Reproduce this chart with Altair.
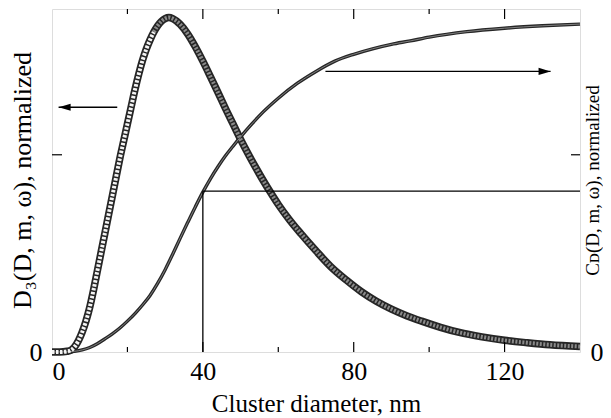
import altair as alt
import pandas as pd

# D3 distribution (left axis)
x_d3 = [0, 2, 4, 5, 6, 7, 8, 9, 10, 11, 12, 13, 14, 15, 16, 17, 18, 19, 20, 21, 22, 23, 24, 25, 26, 27, 28, 29, 30,
        31, 32, 33, 34, 36, 38, 40, 42, 44, 46, 48, 50, 52, 54, 56, 58, 60, 63, 66, 70, 74, 78, 82, 86, 90, 94, 98,
        103, 108, 114, 120, 126, 132, 140]
y_d3 = [0, 0, 0.002, 0.005, 0.015, 0.033, 0.058, 0.09, 0.13, 0.18, 0.235, 0.29, 0.345, 0.40, 0.455, 0.51, 0.565,
        0.615, 0.665, 0.715, 0.765, 0.81, 0.85, 0.883, 0.91, 0.933, 0.951, 0.964, 0.972, 0.975, 0.972, 0.965, 0.955,
        0.927, 0.89, 0.848, 0.803, 0.757, 0.71, 0.665, 0.62, 0.578, 0.538, 0.50, 0.464, 0.43, 0.385, 0.345, 0.295,
        0.248, 0.21, 0.176, 0.148, 0.125, 0.106, 0.09, 0.072, 0.057, 0.044, 0.034, 0.027, 0.021, 0.016]

# cumulative C_D (right axis)
x_cd = [0, 4, 6, 8, 10, 12, 14, 16, 18, 20, 22, 24, 26, 28, 30, 32, 34, 36, 38, 40, 42, 44, 46, 48, 50, 53, 56, 60,
        65, 70, 75, 80, 85, 90, 95, 100, 110, 120, 130, 140]
y_cd = [0, 0.0005, 0.002, 0.006, 0.013, 0.024, 0.038, 0.053, 0.07, 0.09, 0.112, 0.137, 0.165, 0.20, 0.24, 0.285,
        0.332, 0.378, 0.423, 0.466, 0.505, 0.54, 0.572, 0.60, 0.627, 0.665, 0.70, 0.74, 0.783, 0.818, 0.848, 0.868,
        0.884, 0.897, 0.907, 0.918, 0.934, 0.944, 0.951, 0.956]

x_ticks_labeled = [0, 40, 80, 120]
x_ticks_major = [40, 80, 120]
x_ticks_minor = [20, 60, 100]
y_tick_inner = [0.575]

# marker lines: vertical at D=40 up to C_D level, horizontal to the right edge
ref_x = 40
ref_level = 0.469
ref_x_end = 140

# arrows
arrow_left = {"x1": 17.3, "x2": 1.75, "y": 0.7135, "head": 3.35}
arrow_right = {"x1": 72.5, "x2": 132.2, "y": 0.818, "head": 130.6}

# where the open markers of the D3 curve turn into a dark band
band_split = 27

FONT = "Liberation Serif"
X = alt.Scale(domain=[0, 140], nice=False, zero=False)
Y = alt.Scale(domain=[0, 1], nice=False, zero=False)

d3 = pd.DataFrame({"x": x_d3, "y": y_d3})
cd = pd.DataFrame({"x": x_cd, "y": y_cd})
d3_rise = d3[d3["x"] <= band_split]
d3_fall = d3[d3["x"] >= band_split]

x_axis = alt.Axis(values=x_ticks_labeled, ticks=False, domain=False, grid=False, labelFontSize=26,
                  labelPadding=6, labelColor="black", labelFont=FONT, title="Cluster diameter, nm",
                  titleFontSize=25, titleFont=FONT, titleFontWeight="normal", titleColor="black",
                  titleBaseline="alphabetic", titleY=59)
y_left = alt.Axis(values=[0], ticks=False, domain=False, grid=False, labelFontSize=26, labelPadding=10,
                  labelColor="black", labelFont=FONT, title="D₃(D, m, ω), normalized", titleFontSize=26,
                  titleFont=FONT, titleFontWeight="normal", titleColor="black", titleAngle=270,
                  titleBaseline="bottom", titleX=-17, titleY=171, titleAlign="center")
y_right = alt.Axis(orient="right", values=[0], ticks=False, domain=False, grid=False, labelFontSize=26,
                   labelPadding=10, labelColor="black", labelFont=FONT, title="Cᴅ(D, m, ω), normalized",
                   titleFontSize=19, titleFont=FONT, titleFontWeight="normal", titleColor="black",
                   titleAngle=270, titleBaseline="top", titleX=3, titleY=171, titleAlign="center")

d3_outer = alt.Chart(d3).mark_line(color="#262626", strokeWidth=7.5, interpolate="monotone").encode(
    x=alt.X("x:Q", scale=X, axis=x_axis), y=alt.Y("y:Q", scale=Y, axis=y_left))
d3_inner_rise = alt.Chart(d3_rise).mark_line(color="#f4f4f4", strokeWidth=4, strokeDash=[2.5, 1.5],
                                             interpolate="monotone").encode(
    x=alt.X("x:Q", scale=X, axis=None), y=alt.Y("y:Q", scale=Y, axis=None))
d3_inner_fall = alt.Chart(d3_fall).mark_line(color="#8a8a8a", strokeWidth=4, strokeDash=[2, 1.5],
                                             interpolate="monotone").encode(
    x=alt.X("x:Q", scale=X, axis=None), y=alt.Y("y:Q", scale=Y, axis=None))
cd_outer = alt.Chart(cd).mark_line(color="#262626", strokeWidth=3.4, interpolate="monotone").encode(
    x=alt.X("x:Q", scale=X, axis=None), y=alt.Y("y:Q", scale=Y, axis=y_right))
cd_inner = alt.Chart(cd).mark_line(color="#8a8a8a", strokeWidth=0.9, interpolate="monotone").encode(
    x=alt.X("x:Q", scale=X, axis=None), y=alt.Y("y:Q", scale=Y, axis=None))

refs = pd.DataFrame({"x": [ref_x, ref_x], "x2": [ref_x, ref_x_end], "y": [0, ref_level], "y2": [ref_level, ref_level]})
ref_rules = alt.Chart(refs).mark_rule(color="black", strokeWidth=1.3).encode(
    x=alt.X("x:Q", scale=X, axis=None), x2="x2:Q", y=alt.Y("y:Q", scale=Y, axis=None), y2="y2:Q")

arrows = pd.DataFrame([arrow_left, arrow_right])
arrow_lines = alt.Chart(arrows).mark_rule(color="black", strokeWidth=1.3).encode(
    x=alt.X("x1:Q", scale=X, axis=None), x2="x2:Q", y=alt.Y("y:Q", scale=Y, axis=None))
head_l = alt.Chart(pd.DataFrame([arrow_left])).mark_point(
    shape="M-1,0L1,-0.6L1,0.6Z", filled=True, color="black", size=144, opacity=1).encode(
    x=alt.X("head:Q", scale=X, axis=None), y=alt.Y("y:Q", scale=Y, axis=None))
head_r = alt.Chart(pd.DataFrame([arrow_right])).mark_point(
    shape="M1,0L-1,-0.6L-1,0.6Z", filled=True, color="black", size=144, opacity=1).encode(
    x=alt.X("head:Q", scale=X, axis=None), y=alt.Y("y:Q", scale=Y, axis=None))

tk_major = pd.DataFrame({"x": x_ticks_major})
tk_minor = pd.DataFrame({"x": x_ticks_minor})
H = 343
W = 528


def xticks(df, length):
    bottom = alt.Chart(df).mark_rule(color="black", strokeWidth=1.2).encode(
        x=alt.X("x:Q", scale=X, axis=None), y=alt.value(H), y2=alt.value(H - length))
    top = alt.Chart(df).mark_rule(color="black", strokeWidth=1.2).encode(
        x=alt.X("x:Q", scale=X, axis=None), y=alt.value(0), y2=alt.value(length))
    return [bottom, top]


yt = pd.DataFrame({"y": y_tick_inner})
ytick_l = alt.Chart(yt).mark_rule(color="black", strokeWidth=1.2).encode(
    y=alt.Y("y:Q", scale=Y, axis=None), x=alt.value(0), x2=alt.value(10))
ytick_r = alt.Chart(yt).mark_rule(color="black", strokeWidth=1.2).encode(
    y=alt.Y("y:Q", scale=Y, axis=None), x=alt.value(W), x2=alt.value(W - 9))

chart = alt.layer(
    d3_outer, cd_outer, cd_inner, d3_inner_rise, d3_inner_fall, ref_rules, arrow_lines, head_l, head_r,
    *xticks(tk_major, 10), *xticks(tk_minor, 5), ytick_l, ytick_r
).resolve_axis(x="independent", y="independent").properties(
    width=W, height=H, autosize=alt.AutoSizeParams(type="none"),
    padding={"left": 44, "top": 1, "right": 23, "bottom": 65}
).configure_view(stroke="black", strokeWidth=2).configure(font=FONT)

chart.save("out.html", embed_options={"renderer": "svg", "actions": False})
